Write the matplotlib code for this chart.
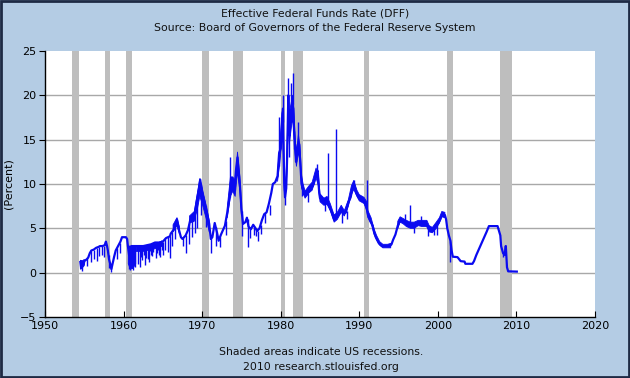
import matplotlib
matplotlib.use("Agg")
import matplotlib.pyplot as plt
from matplotlib.patches import Rectangle

nan = float("nan")

# ---- data ----
dates = [1954.50, 1954.60, 1954.70, 1954.90, 1955.00, 1955.30, 1955.50, 1955.70, 1955.90,
         1956.20, 1956.50, 1956.80, 1957.00, 1957.30, 1957.60, 1957.75, 1957.90, 1958.00,
         1958.15, 1958.30, 1958.45, 1958.60, 1958.80, 1959.00, 1959.30, 1959.60, 1959.80,
         1960.00, 1960.30, 1960.45, 1960.55, 1960.70, 1961.00, 1961.50, 1962.00, 1962.50,
         1963.00, 1963.50, 1964.00, 1964.50, 1965.00, 1965.40, 1965.90, 1966.00, 1966.50,
         1966.80, 1967.00, 1967.30, 1967.50, 1967.90, 1968.20, 1968.50, 1968.80, 1969.00,
         1969.30, 1969.60, 1969.75, 1970.00, 1970.30, 1970.60, 1970.90, 1971.10, 1971.30,
         1971.60, 1971.90, 1972.10, 1972.40, 1972.70, 1972.90, 1973.20, 1973.50, 1973.70,
         1973.90, 1974.10, 1974.30, 1974.50, 1974.60, 1974.80, 1975.00, 1975.20, 1975.50,
         1975.70, 1975.90, 1976.20, 1976.50, 1976.80, 1977.00, 1977.30, 1977.60, 1977.90,
         1978.20, 1978.50, 1978.80, 1979.00, 1979.30, 1979.60, 1979.80, 1980.00, 1980.15,
         1980.28, 1980.35, 1980.45, 1980.55, 1980.70, 1980.80, 1980.90, 1980.97, 1981.05,
         1981.15, 1981.25, 1981.35, 1981.45, 1981.60, 1981.70, 1981.85, 1981.95, 1982.10,
         1982.20, 1982.35, 1982.45, 1982.55, 1982.65, 1982.80, 1983.00, 1983.30, 1983.60,
         1983.90, 1984.20, 1984.50, 1984.70, 1984.90, 1985.00, 1985.30, 1985.60, 1985.90,
         1986.20, 1986.50, 1986.80, 1987.00, 1987.40, 1987.70, 1988.00, 1988.30, 1988.60,
         1988.90, 1989.20, 1989.40, 1989.60, 1989.90, 1990.30, 1990.60, 1990.90, 1991.10,
         1991.40, 1991.70, 1991.90, 1992.10, 1992.50, 1992.90, 1993.50, 1993.90, 1994.10,
         1994.30, 1994.60, 1994.90, 1995.20, 1995.50, 1995.90, 1996.20, 1996.60, 1997.00,
         1997.50, 1998.00, 1998.50, 1998.80, 1999.00, 1999.50, 1999.80, 2000.00, 2000.30,
         2000.50, 2000.90, 2001.05, 2001.20, 2001.40, 2001.60, 2001.75, 2001.90, 2002.50,
         2002.90, 2003.40, 2003.50, 2004.40, 2004.60, 2004.90, 2005.30, 2005.60, 2005.90,
         2006.20, 2006.50, 2007.60, 2007.75, 2007.95, 2008.05, 2008.30, 2008.50, 2008.65,
         2008.80, 2008.95, 2010.05]
rate = [1.2, 0.5, 1.3, 0.8, 1.3, 1.5, 1.7, 2.2, 2.5,
        2.6, 2.8, 2.9, 3.0, 3.0, 3.1, 3.5, 3.0, 2.5,
        1.5, 1.0, 0.4, 1.0, 1.8, 2.5, 3.0, 3.5, 4.0,
        4.0, 4.0, 3.8, 3.0, 2.0, 3.0, 3.0, 3.0, 3.0,
        3.1, 3.2, 3.4, 3.4, 3.5, 3.9, 4.1, 4.4, 5.0,
        6.0, 5.0, 4.0, 3.8, 4.2, 4.8, 6.0, 5.8, 6.3,
        8.0, 9.5, 10.5, 9.0, 8.0, 6.8, 5.5, 3.8, 4.0,
        5.6, 4.5, 3.6, 4.3, 4.9, 5.3, 6.8, 8.5, 10.5,
        10.0, 9.2, 11.5, 13.0, 12.0, 10.0, 7.2, 5.5, 5.7,
        6.2, 5.2, 4.9, 5.4, 5.0, 4.7, 5.0, 5.9, 6.6,
        6.8, 7.8, 9.0, 10.0, 10.2, 10.9, 13.5, 14.0, 16.5,
        18.5, 14.0, 10.0, 8.5, 9.5, 12.5, 17.0, 20.0, 17.0,
        15.5, 18.0, 17.0, 19.0, 18.5, 16.0, 14.0, 12.5, 14.0,
        14.5, 14.5, 13.0, 11.5, 10.0, 9.5, 8.8, 8.8, 9.4,
        9.5, 10.0, 11.2, 11.5, 9.0, 8.4, 8.3, 7.9, 8.0,
        7.5, 6.8, 6.0, 6.3, 6.6, 7.2, 6.7, 6.8, 7.9,
        8.5, 9.8, 9.8, 9.0, 8.5, 8.2, 8.1, 7.5, 6.5,
        5.8, 5.3, 4.5, 4.0, 3.3, 3.0, 3.0, 3.0, 3.2,
        3.7, 4.3, 5.3, 6.0, 5.8, 5.7, 5.3, 5.3, 5.3,
        5.5, 5.5, 5.5, 5.0, 4.8, 5.0, 5.3, 5.5, 6.0,
        6.5, 6.5, 6.0, 5.0, 4.2, 3.6, 2.5, 1.8, 1.75,
        1.3, 1.25, 1.0, 1.0, 1.3, 2.0, 2.8, 3.4, 4.0,
        4.6, 5.25, 5.25, 4.8, 4.2, 3.0, 2.2, 2.0, 3.0,
        0.6, 0.15, 0.12]

# daily range of the noisy stretches (low / high)
band_dates = [1954.50, 1954.75, 1955.00, nan,
              1960.60, 1960.90, 1961.20, 1961.55, nan,
              1961.60, 1962.50, 1963.50, 1964.50, 1964.90, nan,
              1966.3, 1966.8, 1967.1, nan,
              1968.4, 1969.0, 1969.4, 1969.7, 1970.0, 1970.3, 1970.6, 1970.9, nan,
              1973.2, 1973.6, 1973.9, 1974.2, 1974.5, 1974.8, 1975.0, nan,
              1979.6, 1979.9, 1980.15, 1980.3, 1980.45, 1980.6, 1980.8, 1980.95, 1981.1,
              1981.3, 1981.5, 1981.65, 1981.85, 1982.0, 1982.25, 1982.45, 1982.65, 1982.85,
              1983.1, 1983.6, 1984.0, 1984.5, 1984.8, 1985.0, 1985.5, 1985.9, 1986.3,
              1986.8, 1987.2, 1987.7, 1988.1, 1988.6, 1989.0, 1989.3, 1989.7, 1990.0,
              1990.6, 1990.95, 1991.1, 1991.5, 1991.9, 1992.2, 1992.6, 1993.0, 1993.6,
              1994.0, nan,
              1994.9, 1995.2, 1995.6, 1996.0, 1996.5, 1997.0, 1997.5, 1998.0, 1998.6,
              1998.9, 1999.3, 1999.8, 2000.2, 2000.5, 2000.9]
band_lo = [0.4, 0.5, 0.9, nan,
           1.0, 0.4, 0.5, 1.0, nan,
           2.4, 2.4, 2.6, 2.8, 3.0, nan,
           4.6, 5.3, 4.4, nan,
           5.6, 5.8, 7.2, 8.6, 7.8, 6.8, 5.8, 4.6, nan,
           6.2, 8.6, 9.2, 8.6, 11.4, 9.2, 6.5, nan,
           10.3, 12.5, 15.0, 15.0, 9.3, 8.3, 11.5, 17.0, 14.5,
           16.0, 17.5, 16.0, 13.3, 12.0, 13.6, 12.5, 9.6, 9.0,
           8.4, 9.0, 9.3, 10.7, 9.8, 8.0, 7.6, 7.7, 7.0,
           5.7, 6.0, 6.8, 6.4, 7.5, 8.8, 9.4, 8.6, 8.1,
           7.8, 7.0, 6.2, 5.6, 4.3, 3.7, 3.1, 2.8, 2.8,
           2.8, nan,
           5.0, 5.7, 5.5, 5.2, 5.0, 5.0, 5.3, 5.2, 5.2,
           4.6, 4.5, 5.0, 5.6, 6.3, 6.2]
band_hi = [1.4, 1.3, 1.5, nan,
           3.0, 3.0, 3.0, 3.0, nan,
           3.0, 3.0, 3.2, 3.4, 3.6, nan,
           5.4, 6.2, 5.2, nan,
           6.4, 6.9, 9.0, 10.6, 9.6, 8.4, 7.2, 5.9, nan,
           7.4, 10.8, 10.8, 10.4, 13.6, 10.8, 7.8, nan,
           11.4, 14.5, 18.0, 18.5, 11.5, 9.6, 13.5, 20.0, 18.0,
           19.0, 20.0, 19.0, 15.0, 13.5, 15.6, 14.3, 11.0, 10.0,
           9.2, 9.8, 10.2, 11.8, 11.0, 8.9, 8.4, 8.6, 7.8,
           6.5, 6.8, 7.6, 7.0, 8.2, 9.8, 10.4, 9.3, 8.8,
           8.5, 8.0, 7.0, 6.2, 4.9, 4.2, 3.5, 3.2, 3.2,
           3.3, nan,
           5.8, 6.3, 6.1, 5.9, 5.7, 5.7, 5.9, 5.9, 5.9,
           5.3, 5.1, 5.7, 6.2, 6.9, 6.8]

# daily spikes: date, start value, end value
spike_dates = [1954.70, 1955.40, 1955.90, 1956.30, 1956.60, 1956.90, 1957.20, 1957.50,
               1958.20, 1958.40, 1959.20, 1959.50, 1960.65, 1960.75, 1960.85, 1960.95,
               1961.05, 1961.15, 1961.25, 1961.35, 1961.45, 1961.80, 1962.10, 1962.40,
               1962.70, 1962.90, 1963.20, 1963.50, 1963.80, 1964.10, 1964.40, 1964.70,
               1965.00, 1965.30, 1965.60, 1965.90, 1966.20, 1966.50, 1967.60, 1967.90,
               1968.30, 1968.70, 1969.10, 1969.40, 1969.90, 1970.50, 1971.15, 1971.80,
               1972.30, 1973.00, 1975.05, 1975.80, 1976.60, 1977.10, 1973.50, 1979.80,
               1980.28, 1980.55, 1980.97, 1981.05, 1981.25, 1981.55, 1981.70, 1982.20,
               1982.65, 1984.60, 1986.00, 1987.00, 1987.80, 1989.30, 1991.00, 1996.40,
               1997.00, 1998.80, 1999.90, 2001.60, 2008.60, 2008.30,
               1962.25, 1962.55, 1963.05, 1963.35, 1963.65, 1964.25, 1964.55, 1964.85,
               1976.10, 1976.90, 1977.50, 1978.00, 1978.60, 1983.50, 1985.60, 1988.40,
               1995.80, 1997.80, 1999.50]
spike_from = [1.2, 1.6, 2.4, 2.6, 2.8, 2.9, 3.0, 3.0,
              2.0, 1.0, 2.8, 3.3, 3.0, 3.0, 3.0, 3.0,
              3.0, 3.0, 3.0, 3.0, 3.0, 3.0, 3.0, 3.0,
              3.0, 3.0, 3.1, 3.2, 3.3, 3.4, 3.4, 3.4,
              3.5, 3.9, 4.0, 4.1, 4.6, 5.0, 3.9, 4.2,
              5.5, 6.0, 6.5, 8.5, 10.0, 7.5, 4.0, 5.2,
              4.0, 5.8, 7.0, 6.0, 5.3, 4.7, 8.5, 12.0,
              17.0, 8.5, 19.0, 17.0, 18.0, 19.0, 16.0, 14.5,
              10.0, 11.0, 8.0, 6.3, 7.0, 9.8, 7.2, 5.3,
              5.5, 5.0, 5.4, 3.6, 2.0, 2.2,
              3.0, 3.0, 3.1, 3.2, 3.2, 3.4, 3.4, 3.5,
              4.9, 5.0, 5.4, 6.7, 7.6, 9.0, 7.9, 7.0,
              5.6, 5.5, 5.0]
spike_to = [0.2, 0.8, 1.2, 1.5, 1.3, 1.9, 2.0, 1.8,
            0.5, 0.1, 1.5, 2.2, 0.4, 0.8, 0.3, 1.0,
            0.5, 0.9, 0.3, 1.2, 0.6, 1.0, 0.6, 1.4,
            0.9, 1.6, 1.2, 2.0, 2.3, 1.6, 2.6, 1.8,
            2.0, 2.5, 2.3, 1.7, 3.0, 3.8, 3.0, 2.2,
            3.2, 4.0, 4.5, 5.0, 6.5, 5.2, 2.2, 3.0,
            2.9, 4.2, 4.1, 2.9, 4.3, 3.6, 13.1, 17.6,
            20.0, 7.6, 21.9, 13.0, 21.4, 22.5, 14.0, 17.0,
            8.6, 12.2, 13.5, 16.2, 5.6, 10.5, 10.4, 7.6,
            4.5, 4.1, 4.3, 1.2, 3.1, 1.8,
            1.8, 2.0, 1.5, 2.4, 1.9, 2.2, 2.0, 2.6,
            3.9, 4.1, 4.4, 5.6, 6.5, 8.0, 7.0, 6.0,
            6.6, 6.4, 4.2]

recessions = [(1953.50, 1954.37), (1957.58, 1958.29), (1960.29, 1961.12),
              (1969.92, 1970.87), (1973.87, 1975.21), (1980.00, 1980.54),
              (1981.54, 1982.87), (1990.54, 1991.21), (2001.21, 2001.87),
              (2007.92, 2009.46)]

x_ticks = [1950, 1960, 1970, 1980, 1990, 2000, 2010, 2020]
y_ticks = [-5, 0, 5, 10, 15, 20, 25]

title1 = "Effective Federal Funds Rate (DFF)"
title2 = "Source: Board of Governors of the Federal Reserve System"
foot1 = "Shaded areas indicate US recessions."
foot2 = "2010 research.stlouisfed.org"

# ---- styling ----
BG = "#B4CCE4"
LINE = "#0A0AF0"
plt.rcParams["font.family"] = ["DejaVu Sans"]

fig = plt.figure(figsize=(6.3, 3.78), dpi=100, facecolor=BG)
ax = fig.add_axes([45 / 630, 1 - 317 / 378, (595 - 45) / 630, (317 - 51) / 378])
ax.set_facecolor("white")

for a, b in recessions:
    ax.axvspan(a, b, color="#BEBEBE", lw=0, zorder=1)

for y in y_ticks[1:-1]:
    ax.axhline(y, color="#A8A8A8", lw=1.0, zorder=0.5)

ax.fill_between(band_dates, band_lo, band_hi, color=LINE, lw=0.6, zorder=3)
ax.vlines(spike_dates, spike_from, spike_to, color=LINE, lw=1.0, zorder=3)
ax.plot(dates, rate, color=LINE, lw=1.6, zorder=3)

ax.set_xlim(1950, 2020)
ax.set_ylim(-5, 25)
ax.set_xticks(x_ticks)
ax.set_yticks(y_ticks)
ax.tick_params(axis="x", direction="in", length=4, labelsize=8, pad=3, colors="black")
ax.tick_params(axis="y", direction="out", length=4, labelsize=8, pad=2)
for s in ["top", "right"]:
    ax.spines[s].set_visible(False)
for s in ["left", "bottom"]:
    ax.spines[s].set_color("black")
    ax.spines[s].set_linewidth(1.0)

ax.set_ylabel("(Percent)", fontsize=8)
ax.yaxis.set_label_coords(-0.058, 0.5)

fig.text(0.5, 1 - 13 / 378, title1, ha="center", va="center", fontsize=7.8, color="#111")
fig.text(0.5, 1 - 28 / 378, title2, ha="center", va="center", fontsize=7.8, color="#111")
fig.text(321 / 630, 1 - 352 / 378, foot1, ha="center", va="center", fontsize=7.8, color="#111")
fig.text(321 / 630, 1 - 367 / 378, foot2, ha="center", va="center", fontsize=7.8, color="#111")

fig.patches.append(Rectangle((0.0015, 0.0025), 0.997, 0.995, transform=fig.transFigure,
                             fill=False, edgecolor="#1E2A44", lw=2.0))

fig.savefig("out.png", dpi=100, facecolor=BG)
